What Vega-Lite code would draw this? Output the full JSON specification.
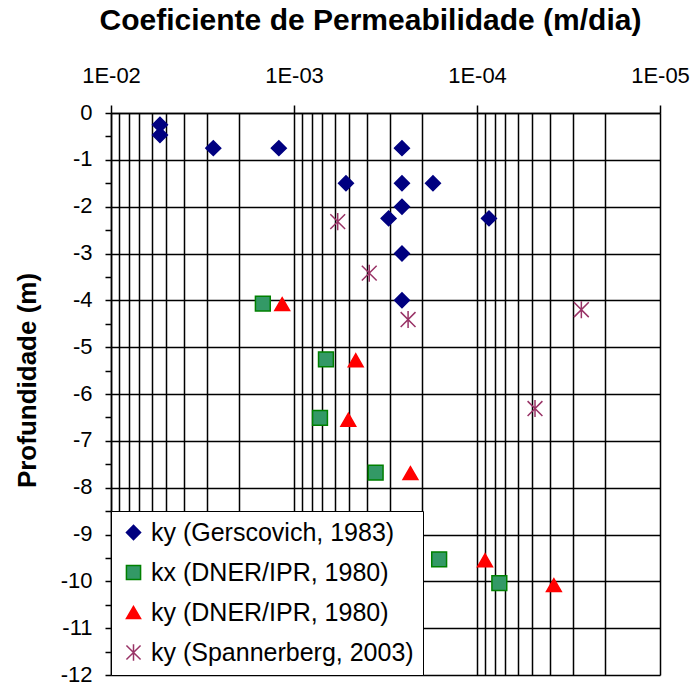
{
  "$schema": "https://vega.github.io/schema/vega-lite/v6.json",
  "width": 549,
  "height": 562,
  "autosize": {"type": "none"},
  "padding": {"left": 111, "top": 113, "right": 36, "bottom": 10},
  "background": "white",
  "title": {
    "text": "Coeficiente de Permeabilidade (m/dia)",
    "font": "Liberation Sans",
    "fontSize": 30,
    "fontWeight": "bold",
    "color": "black",
    "anchor": "middle",
    "dx": -15,
    "offset": 28
  },
  "config": {
    "view": {"stroke": null},
    "axis": {
      "labelFont": "Liberation Sans",
      "labelFontSize": 22,
      "labelColor": "black",
      "titleFont": "Liberation Sans",
      "titleColor": "black",
      "domainColor": "black",
      "domainWidth": 1.5,
      "tickColor": "black",
      "tickWidth": 1.5,
      "gridColor": "black",
      "gridWidth": 1.5
    },
    "legend": {
      "orient": "bottom-left",
      "offset": 0,
      "fillColor": "white",
      "strokeColor": "black",
      "padding": 9,
      "symbolOffset": 1,
      "labelFont": "Liberation Sans",
      "labelFontSize": 25,
      "labelColor": "black",
      "labelOffset": 5,
      "labelLimit": 400,
      "rowPadding": 14,
      "symbolSize": 200,
      "symbolStrokeWidth": 1.5
    }
  },
  "data": {
    "values": [
      {"series": "ky (Gerscovich, 1983)", "k": 0.0054, "depth": -0.25},
      {"series": "ky (Gerscovich, 1983)", "k": 0.0054, "depth": -0.47},
      {"series": "ky (Gerscovich, 1983)", "k": 0.00276, "depth": -0.75},
      {"series": "ky (Gerscovich, 1983)", "k": 0.00121, "depth": -0.75},
      {"series": "ky (Gerscovich, 1983)", "k": 0.00052, "depth": -1.5},
      {"series": "ky (Gerscovich, 1983)", "k": 0.000304, "depth": -2.25},
      {"series": "ky (Gerscovich, 1983)", "k": 0.000257, "depth": -0.75},
      {"series": "ky (Gerscovich, 1983)", "k": 0.000257, "depth": -1.5},
      {"series": "ky (Gerscovich, 1983)", "k": 0.000174, "depth": -1.5},
      {"series": "ky (Gerscovich, 1983)", "k": 0.000257, "depth": -2.0},
      {"series": "ky (Gerscovich, 1983)", "k": 0.000086, "depth": -2.25},
      {"series": "ky (Gerscovich, 1983)", "k": 0.000257, "depth": -3.0},
      {"series": "ky (Gerscovich, 1983)", "k": 0.000257, "depth": -4.0},
      {"series": "kx (DNER/IPR, 1980)", "k": 0.00148, "depth": -4.07},
      {"series": "kx (DNER/IPR, 1980)", "k": 0.000669, "depth": -5.26},
      {"series": "kx (DNER/IPR, 1980)", "k": 0.000721, "depth": -6.51},
      {"series": "kx (DNER/IPR, 1980)", "k": 0.000358, "depth": -7.68},
      {"series": "kx (DNER/IPR, 1980)", "k": 0.000161, "depth": -9.53},
      {"series": "kx (DNER/IPR, 1980)", "k": 0.0000755, "depth": -10.04},
      {"series": "ky (DNER/IPR, 1980)", "k": 0.00116, "depth": -4.08},
      {"series": "ky (DNER/IPR, 1980)", "k": 0.00046, "depth": -5.28},
      {"series": "ky (DNER/IPR, 1980)", "k": 0.000505, "depth": -6.55},
      {"series": "ky (DNER/IPR, 1980)", "k": 0.000231, "depth": -7.69},
      {"series": "ky (DNER/IPR, 1980)", "k": 0.0000904, "depth": -9.55},
      {"series": "ky (DNER/IPR, 1980)", "k": 0.000038, "depth": -10.08},
      {"series": "ky (Spannerberg, 2003)", "k": 0.000577, "depth": -2.32},
      {"series": "ky (Spannerberg, 2003)", "k": 0.000388, "depth": -3.42},
      {"series": "ky (Spannerberg, 2003)", "k": 0.000238, "depth": -4.41},
      {"series": "ky (Spannerberg, 2003)", "k": 0.0000269, "depth": -4.2},
      {"series": "ky (Spannerberg, 2003)", "k": 0.0000482, "depth": -6.31}
    ]
  },
  "mark": {"type": "point", "filled": true, "strokeWidth": 1.5, "opacity": 1, "size": 220},
  "encoding": {
    "x": {
      "field": "k",
      "type": "quantitative",
      "scale": {"type": "log", "domain": [0.00001, 0.01], "reverse": true},
      "axis": {
        "orient": "top",
        "title": null,
        "values": [0.00001, 0.00002, 0.00003, 0.00004, 0.00005, 0.00006, 0.00007, 0.00008, 0.00009,
                   0.0001, 0.0002, 0.0003, 0.0004, 0.0005, 0.0006, 0.0007, 0.0008, 0.0009,
                   0.001, 0.002, 0.003, 0.004, 0.005, 0.006, 0.007, 0.008, 0.009, 0.01],
        "labelExpr": "abs(log(datum.value)/LN10 - round(log(datum.value)/LN10)) < 0.001 ? '1E-0' + (-round(log(datum.value)/LN10)) : ''",
        "tickSize": 8,
        "tickOpacity": {"condition": {"test": "abs(log(datum.value)/LN10 - round(log(datum.value)/LN10)) < 0.001", "value": 1}, "value": 0},
        "labelPadding": 18,
        "labelOverlap": false,
        "labelFlush": false,
        "grid": true
      }
    },
    "y": {
      "field": "depth",
      "type": "quantitative",
      "scale": {"domain": [-12, 0], "nice": false, "zero": false},
      "axis": {
        "title": "Profundidade (m)",
        "titleFontSize": 26,
        "titleFontWeight": "bold",
        "titlePadding": 20,
        "titleY": 267,
        "values": [-12, -11.5, -11, -10.5, -10, -9.5, -9, -8.5, -8, -7.5, -7, -6.5, -6, -5.5, -5, -4.5, -4, -3.5, -3, -2.5, -2, -1.5, -1, -0.5, 0],
        "labelExpr": "datum.value % 1 == 0 ? '' + datum.value : ''",
        "labelBaseline": "alphabetic",
        "labelOffset": 6,
        "tickSize": 6,
        "labelPadding": 13,
        "labelOverlap": false,
        "labelFlush": false,
        "grid": true,
        "gridOpacity": {"condition": {"test": "datum.value % 1 == 0", "value": 1}, "value": 0}
      }
    },
    "fill": {
      "field": "series",
      "type": "nominal",
      "scale": {
        "domain": ["ky (Gerscovich, 1983)", "kx (DNER/IPR, 1980)", "ky (DNER/IPR, 1980)", "ky (Spannerberg, 2003)"],
        "range": ["#000080", "#339966", "#ff0000", "#993366"]
      },
      "legend": {"title": null}
    },
    "stroke": {
      "field": "series",
      "type": "nominal",
      "scale": {
        "domain": ["ky (Gerscovich, 1983)", "kx (DNER/IPR, 1980)", "ky (DNER/IPR, 1980)", "ky (Spannerberg, 2003)"],
        "range": ["#000080", "#008000", "#ff0000", "#993366"]
      },
      "legend": {"title": null}
    },
    "shape": {
      "field": "series",
      "type": "nominal",
      "scale": {
        "domain": ["ky (Gerscovich, 1983)", "kx (DNER/IPR, 1980)", "ky (DNER/IPR, 1980)", "ky (Spannerberg, 2003)"],
        "range": ["diamond", "square", "triangle-up", "M-1,-1L1,1M-1,1L1,-1M0,-1.15L0,1.15"]
      },
      "legend": {"title": null}
    }
  }
}
